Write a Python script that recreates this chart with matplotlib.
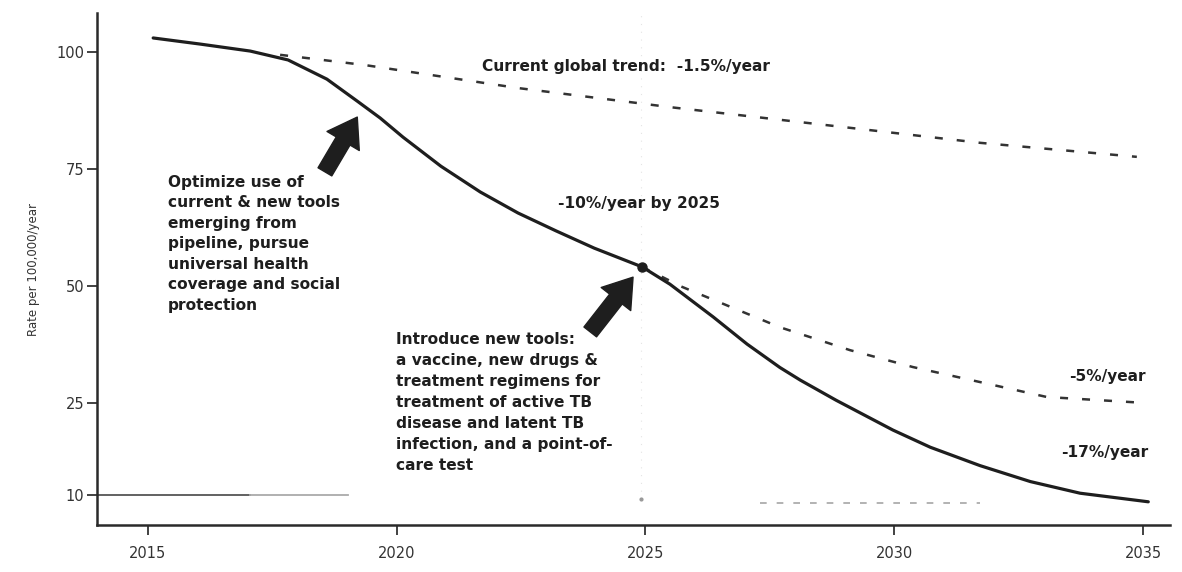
import numpy as np
import matplotlib
matplotlib.use("Agg")
import matplotlib.pyplot as plt

# ---- data (year, rate per 100,000) ----
SOLID_YEAR = [2015.11, 2016.05, 2017.06, 2017.82, 2018.60, 2019.21, 2019.67, 2020.13, 2020.89,
              2021.68, 2022.44, 2023.20, 2023.97, 2024.93, 2025.49, 2026.36, 2027.04, 2027.70,
              2028.11, 2028.83, 2029.97, 2030.72, 2031.72, 2032.73, 2033.73, 2035.10]
SOLID_RATE = [103.0, 101.7, 100.2, 98.3, 94.2, 89.5, 85.9, 81.8, 75.6,
              70.1, 65.6, 61.8, 58.1, 54.1, 50.4, 43.4, 37.6, 32.6,
              29.9, 25.6, 20.6, 17.8, 14.8, 12.2, 10.3, 8.9]

TREND_YEAR = [2017.66, 2019.37, 2022.44, 2025.51, 2029.11, 2031.72, 2034.87]
TREND_RATE = [99.4, 97.2, 92.3, 88.2, 83.8, 80.6, 77.6]

FIVE_YEAR = [2024.93, 2025.74, 2027.70, 2029.11, 2030.37, 2033.06, 2035.08]
FIVE_RATE = [54.1, 49.8, 41.2, 36.3, 32.7, 26.3, 25.0]

MILESTONE = (2024.93, 54.1)
TARGET = 10
YTICKS = [10, 25, 50, 75, 100]
XTICKS = [2015, 2020, 2025, 2030, 2035]

OPTIMIZE = ["Optimize use of", "current & new tools", "emerging from", "pipeline, pursue",
            "universal health", "coverage and social", "protection"]
INTRODUCE = ["Introduce new tools:", "a vaccine, new drugs &", "treatment regimens for",
             "treatment of active TB", "disease and latent TB", "infection, and a point-of-",
             "care test"]

INK = "#1e1e1e"
FS = 11.1
K = 1.31  # the axis below 25 is stretched in the original


def fwd(v):
    v = np.asarray(v, float)
    return np.where(v >= 25, v, 25 - (25 - v) * K)


def inv(f):
    f = np.asarray(f, float)
    return np.where(f >= 25, f, 25 - (25 - f) / K)


def label(ax, x, y, s, ha="left"):
    ax.text(x, y, s, ha=ha, va="center", fontsize=FS, fontweight="bold", color=INK)


def block(ax, lines, x, y, pitch):
    for i, s in enumerate(lines):
        ax.annotate(s, xy=(x, y), xytext=(0, -i * pitch), textcoords="offset points",
                    ha="left", va="center", fontsize=FS, fontweight="bold", color=INK)


def arrow(ax, tail, tip):
    ax.annotate("", xy=tip, xytext=tail,
                arrowprops=dict(arrowstyle="simple,head_length=2.0,head_width=2.7,tail_width=1.15",
                                mutation_scale=10, fc=INK, ec=INK, shrinkA=0, shrinkB=0))


plt.rcParams["font.family"] = ["DejaVu Sans"]
fig = plt.figure(figsize=(11.82, 5.72), dpi=100)
ax = fig.add_axes([0.082, 0.082, 0.908, 0.895])
ax.set_yscale("function", functions=(fwd, inv))
ax.set_xlim(2013.98, 2035.54)
ax.set_ylim(5.1, 108.3)

# faint scan artefacts: vertical guide at 2025 and a dashed target level
ax.plot([2024.91, 2024.91], [9.3, 108], color="#e4e4e4", lw=0.8, ls=(0, (1, 6)), zorder=1)
ax.plot([2024.91], [9.3], marker="o", ms=2, color="#999999", zorder=1)
ax.plot([2027.30, 2031.72], [8.7, 8.7], color="#a5a5a5", lw=1.2, ls=(0, (4, 6)), zorder=1)
ax.plot([2013.98, 2017.06], [TARGET, TARGET], color="#555555", lw=1.3, zorder=2)
ax.plot([2017.06, 2019.02], [TARGET, TARGET], color="#aaaaaa", lw=1.3, zorder=2)

ax.plot(TREND_YEAR, TREND_RATE, color="#333333", lw=1.8, ls=(0, (3.2, 5.6)), zorder=2)
ax.plot(FIVE_YEAR, FIVE_RATE, color="#333333", lw=1.8, ls=(0, (3.2, 5.6)), zorder=2)
ax.plot(SOLID_YEAR, SOLID_RATE, color=INK, lw=2.3, solid_capstyle="round",
        solid_joinstyle="round", zorder=3)
ax.plot(*MILESTONE, marker="o", ms=6.5, color=INK, zorder=4)

arrow(ax, (2018.56, 74.4), (2019.21, 86.1))
arrow(ax, (2023.89, 40.2), (2024.75, 51.9))

block(ax, OPTIMIZE, 2015.41, 72.2, 14.8)
block(ax, INTRODUCE, 2019.99, 38.5, 15.1)

label(ax, 2021.72, 96.8, "Current global trend:  -1.5%/year")
label(ax, 2023.24, 67.7, "-10%/year by 2025")
label(ax, 2035.04, 30.6, "-5%/year", ha="right")
label(ax, 2035.10, 17.0, "-17%/year", ha="right")

ax.set_yticks(YTICKS)
ax.set_yticklabels([str(t) for t in YTICKS])
ax.set_xticks(XTICKS)
ax.set_xticklabels([str(t) for t in XTICKS])
ax.minorticks_off()
ax.tick_params(axis="y", length=7, width=1.3, pad=2, labelsize=10.5, colors="#333333")
ax.tick_params(axis="x", length=7, width=1.3, pad=8, labelsize=10.5, colors="#333333")
ax.set_ylabel("Rate per 100,000/year", fontsize=8.5, color="#333333")
ax.yaxis.set_label_coords(-0.053, 0.50)

for side in ("top", "right"):
    ax.spines[side].set_visible(False)
for side in ("left", "bottom"):
    ax.spines[side].set_linewidth(1.8)
    ax.spines[side].set_color("#2a2a2a")

fig.savefig("out.png", dpi=100)
